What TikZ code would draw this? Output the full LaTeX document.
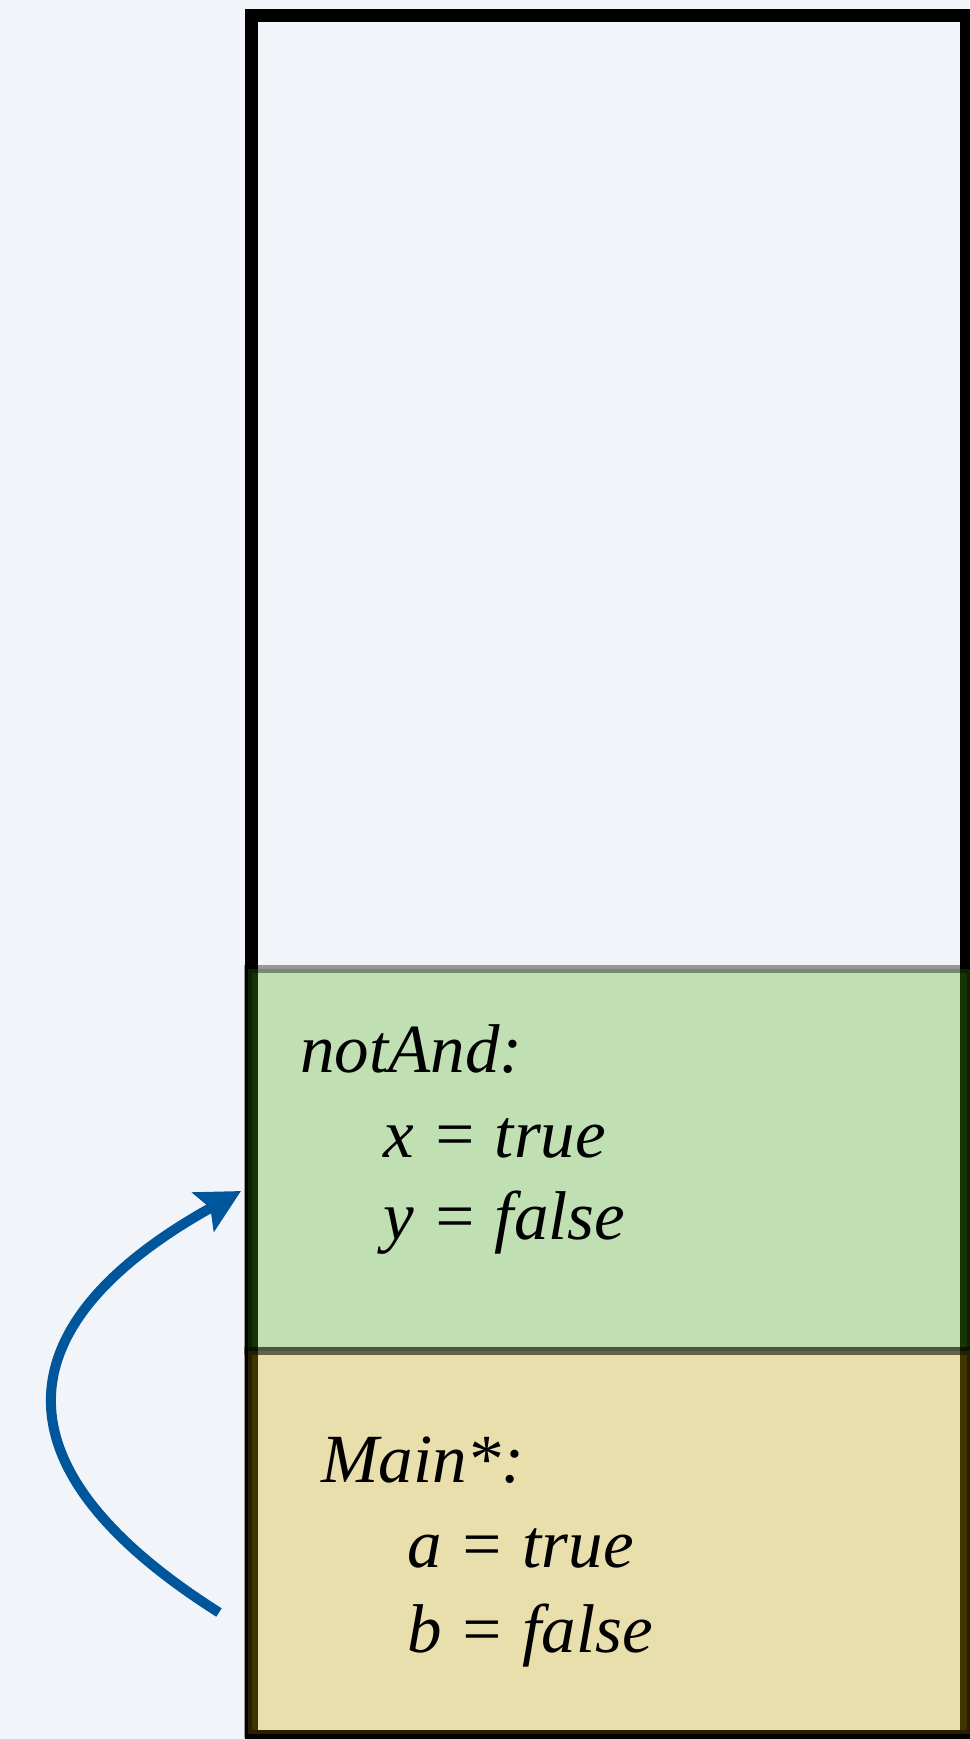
\documentclass[tikz,border=0pt]{standalone}
\usepackage{fontspec}
\setmainfont{Liberation Serif}
\usetikzlibrary{arrows.meta, calc, positioning}

\definecolor{pagebg}{RGB}{241,245,249}
\definecolor{framegreen}{RGB}{82,175,19}
\definecolor{frameyellow}{RGB}{214,173,0}
\definecolor{callblue}{RGB}{0,86,154}

\begin{document}
\begin{tikzpicture}[
        x=1pt, y=-1pt,
        stackbox/.style={rectangle, draw=black, line width=13pt, inner sep=0pt, outer sep=0pt, anchor=north west},
        frame/.style={rectangle, draw=black, draw opacity=0.38, line width=8pt, fill opacity=0.3, minimum width=723pt, inner sep=0pt, outer sep=0pt},
        varline/.style={anchor=base west, inner sep=0pt, font=\fontsize{69}{80}\selectfont\itshape},
        call/.style={draw=callblue, line width=10pt, -{Stealth[length=43pt, width=44pt, inset=8pt]}}
    ]

    % Background
    \fill [pagebg] (0,0) rectangle (969,1739);
    \useasboundingbox (0,0) rectangle (969,1739);

    % Nodes
    \node (stack) [stackbox, minimum width=715pt, minimum height=1721pt] at (251.5,15.5) {};
    \node (notand) [frame, fill=framegreen, minimum height=382pt, anchor=north west] at (248,969) {};
    \node (mainframe) [frame, fill=frameyellow, minimum height=383pt, below=0pt of notand] {};

    \node (notandname) [varline] at ($(notand.north west)+(52,103)$) {notAnd:};
    \node (notandx) [varline] at ($(notandname.base west)+(83,85)$) {x = true};
    \node (notandy) [varline] at ($(notandx.base west)+(0,82)$) {y = false};

    \node (mainname) [varline] at ($(mainframe.north west)+(73,131)$) {Main*:};
    \node (maina) [varline] at ($(mainname.base west)+(86,85)$) {a = true};
    \node (mainb) [varline] at ($(maina.base west)+(0,85)$) {b = false};

    % Arrows
    \coordinate (callsite) at ($(mainframe.west)+(-29,70)$);
    \coordinate (calltarget) at ($(notand.west)+(-7,31)$);
    \draw [call] (callsite) .. controls +(-234,-148) and +(-234,130) .. (calltarget);

\end{tikzpicture}
\end{document}
